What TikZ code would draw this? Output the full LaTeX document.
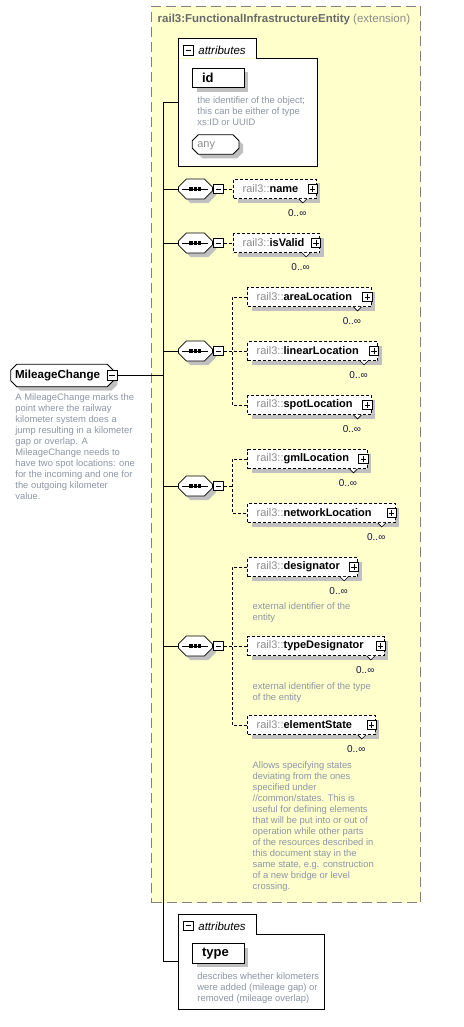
\documentclass[tikz,border=0pt]{standalone}
\usepackage{fontspec}
\setmainfont{Liberation Sans}
\usepackage{tikz}
\usetikzlibrary{positioning,shapes.misc,shadows}
\definecolor{myyellow}{RGB}{255,255,204}
\definecolor{mygray}{RGB}{192,192,192}
\definecolor{bordergray}{RGB}{128,128,128}
\definecolor{prefixgray}{RGB}{140,140,140}
\definecolor{titlegray}{RGB}{105,105,105}
\definecolor{descgray}{RGB}{140,150,165}
\definecolor{multblue}{RGB}{20,20,60}

\begin{document}
\begin{tikzpicture}[x=1pt,y=-1pt,inner sep=0pt,line width=0.8pt]
\tikzstyle{shadowed}=[general shadow={fill=mygray, shadow xshift=4pt, shadow yshift=-4pt}]
\tikzstyle{ext}=[rectangle, draw=bordergray, fill=myyellow, dash pattern=on 10pt off 5pt, line width=1pt]
\tikzstyle{elem}=[rectangle, draw, dash pattern=on 3pt off 2pt, fill=white, shadowed, minimum height=19pt, inner xsep=9pt, align=left, anchor=west, font=\fontsize{11}{13}\selectfont]
\tikzstyle{octa}=[chamfered rectangle, draw, fill=white, shadowed]
\tikzstyle{seq}=[octa, chamfered rectangle xsep=4pt, chamfered rectangle ysep=4pt,
  path picture={\draw[black, line width=0.9pt] ([xshift=-13pt]path picture bounding box.center) -- ([xshift=13pt]path picture bounding box.center);
  \fill[black] ([xshift=-6pt, yshift=-1.6pt]path picture bounding box.center) rectangle ++(3.2pt,3.2pt);
  \fill[black] ([xshift=-1.6pt, yshift=-1.6pt]path picture bounding box.center) rectangle ++(3.2pt,3.2pt);
  \fill[black] ([xshift=2.8pt, yshift=-1.6pt]path picture bounding box.center) rectangle ++(3.2pt,3.2pt);}]
\tikzstyle{minbox}=[rectangle, draw, fill=white, minimum size=9.5pt,
  path picture={\draw[black] ([xshift=2pt]path picture bounding box.west) -- ([xshift=-2pt]path picture bounding box.east);}]
\tikzstyle{plusbox}=[rectangle, draw, fill=white, minimum size=9.5pt,
  path picture={\draw[black] ([xshift=2pt]path picture bounding box.west) -- ([xshift=-2pt]path picture bounding box.east);
  \draw[black] ([yshift=-2pt]path picture bounding box.north) -- ([yshift=2pt]path picture bounding box.south);}]
\tikzstyle{attbox}=[rectangle, fill=white]
\tikzstyle{attlabel}=[font=\fontsize{11.5}{13}\selectfont\itshape]
\tikzstyle{attr}=[rectangle, draw, fill=white, shadowed, minimum height=19.6pt, inner xsep=9.4pt, align=left, font=\fontsize{13}{15}\selectfont\bfseries]
\tikzstyle{desc}=[text=descgray, align=left, font=\fontsize{9.4}{11}\selectfont]
\tikzstyle{mult}=[text=multblue, font=\fontsize{10}{12}\selectfont]
\tikzstyle{notch}=[draw, fill=white, line width=0.6pt]
\tikzstyle{dline}=[dash pattern=on 3pt off 2pt]
\useasboundingbox (0,0) rectangle (463,1027);

\node[ext, minimum width=269pt, minimum height=896pt, anchor=north west] (ext) at (151,6) {};
\node[anchor=west, font=\fontsize{11.5}{13}\selectfont] (title) at (157.3,20) {{\color{titlegray}\bfseries rail3:FunctionalInfrastructureEntity} {\color{prefixgray}(extension)}};

% attributes of the base type
\node[attbox, minimum width=138pt, minimum height=107pt, anchor=north west] (at1) at (178.3,58.3) {};
\node[attbox, minimum width=77.4pt, minimum height=19pt, anchor=south west] (at1t) at (at1.north west) {};
\draw (at1t.north west) -- (at1t.north east) -- (at1t.south east) -- (at1.north east) -- (at1.south east) -- (at1.south west) -- cycle;
\node[minbox] (at1m) at (188.5,50.5) {};
\node[attlabel, anchor=west] (at1l) at (198,50) {attributes};
\node[attr, anchor=north west, text width=32.6pt] (id) at (192.3,67.7) {id};
\node[desc, anchor=north west] (idd) at (197,95.8) {the identifier of the object;\\this can be either of type\\xs:ID or UUID};
\node[octa, chamfered rectangle xsep=3pt, chamfered rectangle ysep=3pt, text width=36.7pt, inner xsep=2pt, inner ysep=1.55pt, text height=8pt, text depth=2.5pt, align=left, text=prefixgray, font=\fontsize{11}{13}\selectfont] (any) at (215.65,144.5) {any};

% the element itself
\node[octa, chamfered rectangle xsep=3pt, chamfered rectangle ysep=3pt, text width=94pt, inner xsep=1.3pt, inner ysep=2.2pt, text height=9pt, text depth=3pt, align=left, font=\fontsize{11.6}{13}\selectfont\bfseries] (mc) at (62,375.5) {MileageChange};
\node[minbox, minimum size=10pt] (mcm) at (112.3,375) {};
\node[desc, anchor=north west] (mcd) at (15,393.2) {A MileageChange marks the\\point where the railway\\kilometer system does a\\jump resulting in a kilometer\\gap or overlap. A\\MileageChange needs to\\have two spot locations: one\\for the incoming and one for\\the outgoing kilometer\\value.};

% sequences
\node[seq] (s1) at (195.4,189) {\phantom{\rule{26pt}{12pt}}};
\node[seq] (s2) at (195.4,243) {\phantom{\rule{26pt}{12pt}}};
\node[seq] (s3) at (195.4,351) {\phantom{\rule{26pt}{12pt}}};
\node[seq] (s4) at (195.4,486) {\phantom{\rule{26pt}{12pt}}};
\node[seq] (s5) at (195.4,646) {\phantom{\rule{26pt}{12pt}}};
\node[minbox, right=0.5pt of s1] (s1m) {};
\node[minbox, right=0.5pt of s2] (s2m) {};
\node[minbox, right=0.5pt of s3] (s3m) {};
\node[minbox, right=0.5pt of s4] (s4m) {};
\node[minbox, right=0.5pt of s5] (s5m) {};

% child elements
\node[elem, text width=64.7pt] (nm) at (233.3,189) {{\color{prefixgray}rail3::}\textbf{name}};
\node[elem, text width=68pt] (iv) at (233.3,243) {{\color{prefixgray}rail3::}\textbf{isValid}};
\node[elem, text width=105.4pt] (ar) at (247.3,297) {{\color{prefixgray}rail3::}\textbf{areaLocation}};
\node[elem, text width=112pt] (li) at (247.3,351) {{\color{prefixgray}rail3::}\textbf{linearLocation}};
\node[elem, text width=105.4pt] (sp) at (247.3,405) {{\color{prefixgray}rail3::}\textbf{spotLocation}};
\node[elem, text width=101.4pt] (gm) at (247.3,459) {{\color{prefixgray}rail3::}\textbf{gmlLocation}};
\node[elem, text width=129.7pt] (nw) at (247.3,513) {{\color{prefixgray}rail3::}\textbf{networkLocation}};
\node[elem, text width=92pt] (de) at (247.3,567) {{\color{prefixgray}rail3::}\textbf{designator}};
\node[elem, text width=118.7pt] (ty) at (247.3,646) {{\color{prefixgray}rail3::}\textbf{typeDesignator}};
\node[elem, text width=109.7pt] (es) at (247.3,725) {{\color{prefixgray}rail3::}\textbf{elementState}};
\node[plusbox, left=-1pt of nm.east] (nmp) {};
\node[plusbox, left=-1pt of iv.east] (ivp) {};
\node[plusbox, left=-1pt of ar.east] (arp) {};
\node[plusbox, left=-1pt of li.east] (lip) {};
\node[plusbox, left=-1pt of sp.east] (spp) {};
\node[plusbox, left=-1pt of gm.east] (gmp) {};
\node[plusbox, left=-1pt of nw.east] (nwp) {};
\node[plusbox, left=-1pt of de.east] (dep) {};
\node[plusbox, left=-1pt of ty.east] (typ) {};
\node[plusbox, left=-1pt of es.east] (esp) {};
\filldraw[notch] ([xshift=-18pt]nm.south east) -- ++(4,4) -- ++(4,-4);
\filldraw[notch] ([xshift=-18pt]iv.south east) -- ++(4,4) -- ++(4,-4);
\filldraw[notch] ([xshift=-18pt]ar.south east) -- ++(4,4) -- ++(4,-4);
\filldraw[notch] ([xshift=-18pt]li.south east) -- ++(4,4) -- ++(4,-4);
\filldraw[notch] ([xshift=-18pt]sp.south east) -- ++(4,4) -- ++(4,-4);
\filldraw[notch] ([xshift=-18pt]gm.south east) -- ++(4,4) -- ++(4,-4);
\filldraw[notch] ([xshift=-18pt]nw.south east) -- ++(4,4) -- ++(4,-4);
\filldraw[notch] ([xshift=-18pt]de.south east) -- ++(4,4) -- ++(4,-4);
\filldraw[notch] ([xshift=-18pt]ty.south east) -- ++(4,4) -- ++(4,-4);
\filldraw[notch] ([xshift=-18pt]es.south east) -- ++(4,4) -- ++(4,-4);
\node[mult, below left=10pt and 10pt of nm.south east] (nmn) {0..∞};
\node[mult, below left=10pt and 10pt of iv.south east] (ivn) {0..∞};
\node[mult, below left=10pt and 10pt of ar.south east] (arn) {0..∞};
\node[mult, below left=10pt and 10pt of li.south east] (lin) {0..∞};
\node[mult, below left=10pt and 10pt of sp.south east] (spn) {0..∞};
\node[mult, below left=10pt and 10pt of gm.south east] (gmn) {0..∞};
\node[mult, below left=10pt and 10pt of nw.south east] (nwn) {0..∞};
\node[mult, below left=10pt and 10pt of de.south east] (den) {0..∞};
\node[mult, below left=10pt and 10pt of ty.south east] (tyn) {0..∞};
\node[mult, below left=10pt and 10pt of es.south east] (esn) {0..∞};
\node[desc, anchor=north west] (ded) at (252.3,602.5) {external identifier of the\\entity};
\node[desc, anchor=north west] (tyd) at (252.3,682.2) {external identifier of the type\\of the entity};
\node[desc, anchor=north west] (esd) at (252.3,761.5) {Allows specifying states\\deviating from the ones\\specified under\\//common/states. This is\\useful for defining elements\\that will be put into or out of\\operation while other parts\\of the resources described in\\this document stay in the\\same state, e.g. construction\\of a new bridge or level\\crossing.};

% attributes of the extension
\node[attbox, minimum width=145pt, minimum height=74.7pt, anchor=north west] (at2) at (178.3,934.3) {};
\node[attbox, minimum width=77.4pt, minimum height=19pt, anchor=south west] (at2t) at (at2.north west) {};
\draw (at2t.north west) -- (at2t.north east) -- (at2t.south east) -- (at2.north east) -- (at2.south east) -- (at2.south west) -- cycle;
\node[minbox] (at2m) at (188.5,925.8) {};
\node[attlabel, anchor=west] (at2l) at (198,926) {attributes};
\node[attr, anchor=north west, text width=32.6pt] (tp) at (192.3,943.3) {type};
\node[desc, anchor=north west] (tpd) at (197,972.5) {describes whether kilometers\\were added (mileage gap) or\\removed (mileage overlap)};

% connectors
\coordinate (t0) at (163.3,102.7);
\coordinate (t1) at (163.3,961.7);
\coordinate (f3) at (232.3,351);
\coordinate (f4) at (232.3,486);
\coordinate (f5) at (232.3,646);
\draw (at1.west |- t0) -- (t0) -- (t1) -- (t1 -| at2.west);
\draw (mcm.east) -- (mcm.east -| t0);
\draw (s1.west -| t0) -- (s1.west);
\draw (s2.west -| t0) -- (s2.west);
\draw (s3.west -| t0) -- (s3.west);
\draw (s4.west -| t0) -- (s4.west);
\draw (s5.west -| t0) -- (s5.west);
\draw[dline] (s1m.east) -- (nm.west);
\draw[dline] (s2m.east) -- (iv.west);
\draw[dline] (s3m.east) -- (li.west);
\draw[dline] (ar.west) -| (f3) |- (sp.west);
\draw[dline] (s4m.east) -- (f4);
\draw[dline] (gm.west) -| (f4) |- (nw.west);
\draw[dline] (s5m.east) -- (ty.west);
\draw[dline] (de.west) -| (f5) |- (es.west);
\end{tikzpicture}
\end{document}
